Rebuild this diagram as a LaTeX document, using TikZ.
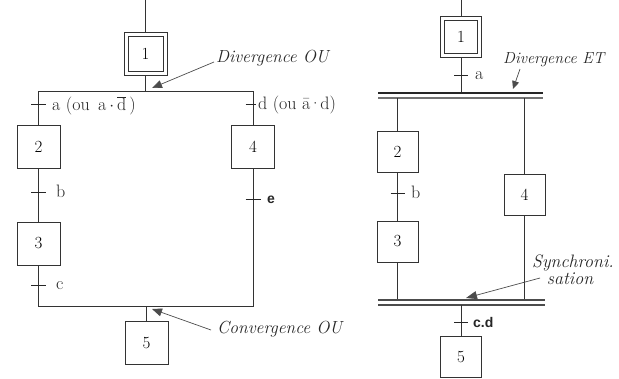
\documentclass[tikz,border=0pt]{standalone}
\usepackage{fontspec}
\newfontfamily\arialf{Liberation Sans}
\usetikzlibrary{arrows.meta}
\tikzset{
  stepbox/.style={draw=black!80, line width=0.8pt, minimum size=43pt, inner sep=0pt, font=\fontsize{17}{20}\selectfont},
  rstep/.style={stepbox, minimum size=41pt},
  initstep/.style={stepbox, path picture={\draw[black!80, line width=0.8pt]
      ([shift={(4pt,-4pt)}]path picture bounding box.north west) rectangle
      ([shift={(-4pt,4pt)}]path picture bounding box.south east);}},
  link/.style={draw=black!80, line width=0.8pt},
  tick/.style={draw=black!85, line width=0.9pt},
  bar/.style={draw=black!85, line width=1.2pt},
  lbl/.style={anchor=west, inner sep=0pt, font=\fontsize{18}{20}\selectfont, text=black!85},
  sflbl/.style={anchor=west, inner sep=0pt, font=\arialf\bfseries\fontsize{14}{16}\selectfont, text=black!85},
  note/.style={inner sep=0pt, font=\itshape\fontsize{17.5}{20}\selectfont, text=black!85},
  pointer/.style={draw=black!70, line width=0.7pt, -{Triangle[length=10pt,width=8pt]}}
}
\begin{document}
\begin{tikzpicture}[x=1pt,y=-1pt]
\useasboundingbox (0,0) rectangle (619,378);
% ---------------- left: OU ----------------
\node[initstep] (L1) at (145.5,53.5) {1};
\node[stepbox] (L2) at (38.5,146.5) {2};
\node[stepbox] (L3) at (38.5,243.5) {3};
\node[stepbox] (L4) at (253,146.5) {4};
\node[stepbox] (L5) at (146.5,343) {5};
\coordinate (Ltop) at (145.5,0);
\coordinate (Ldiv) at (145.5,91);
\coordinate (LdivL) at (38.5,91);
\coordinate (LdivR) at (253,91);
\coordinate (LconvL) at (38.5,306);
\coordinate (LconvR) at (253,306);
\coordinate (Lconv) at (146.5,306);
\draw[link] (Ltop) -- (L1.north);
\draw[link] (L1.south) -- (Ldiv);
\draw[link] (LdivL) -- (LdivR);
\draw[link] (LdivL) -- (L2.north);
\draw[link] (LdivR) -- (L4.north);
\draw[link] (L2.south) -- (L3.north);
\draw[link] (L3.south) -- (LconvL) -- (LconvR) -- (L4.south);
\draw[link] (Lconv) -- (L5.north);
% transitions
\coordinate (tA) at (38.5,104);
\coordinate (tD) at (253,104);
\coordinate (tB) at (38.5,192);
\coordinate (tC) at (38.5,285);
\coordinate (tE) at (253,199);
\foreach \t in {tA,tB,tC,tE} \draw[tick] ([xshift=-7.5pt]\t) -- ([xshift=7.5pt]\t);
\draw[tick] ([xshift=-7.5pt]tD) -- ([xshift=2.5pt]tD);
\node[lbl] (lA) at (52,106) {a (ou\, a\,$\cdot$\,$\overline{\mathrm{d}}$\,)};
\node[lbl] (lD) at (258,105) {d (ou ā\kern-1.5pt·\kern-1.5pt d)};
\node[lbl] (lB) at (56,191) {b};
\node[lbl] (lC) at (56,285.5) {c};
\node[sflbl] (lE) at (267,199.5) {e};
% annotations
\node[note, anchor=base west] (dOU) at (216,62) {Divergence OU};
\coordinate (dOUtip) at (152,88);
\draw[pointer] ([xshift=-2pt]dOU.base west) -- (dOUtip);
\node[note, anchor=base west] (cOU) at (217,333) {Convergence OU};
\coordinate (cOUtip) at (152,309);
\draw[pointer] ([xshift=-6pt,yshift=3pt]cOU.base west) -- (cOUtip);
% ---------------- right: ET ----------------
\node[initstep, minimum size=41pt] (R1) at (461,37) {1};
\node[rstep] (R2) at (397.5,151.5) {2};
\node[rstep] (R3) at (397.5,241.5) {3};
\node[rstep] (R4) at (524.5,194.5) {4};
\node[rstep] (R5) at (461,357) {5};
\coordinate (Rtop) at (461,0);
\coordinate (Rdiv) at (461,93);
\coordinate (RdivAL) at (378,93);
\coordinate (RdivAR) at (543,93);
\coordinate (RdivBL) at (378,98);
\coordinate (RdivBR) at (543,98);
\coordinate (RdivL) at (397.5,98);
\coordinate (RdivR) at (524.5,98);
\coordinate (RsynAL) at (378,300);
\coordinate (RsynAR) at (545,300);
\coordinate (RsynBL) at (378,305);
\coordinate (RsynBR) at (545,305);
\coordinate (RsynL) at (397.5,300);
\coordinate (RsynR) at (524.5,300);
\coordinate (Rsyn) at (461,305);
\draw[link] (Rtop) -- (R1.north);
\draw[link] (R1.south) -- (Rdiv);
\draw[bar] (RdivAL) -- (RdivAR);
\draw[bar, draw=black!55] (RdivBL) -- (RdivBR);
\draw[link, line width=1pt] (RdivL) -- (R2.north);
\draw[link] (R2.south) -- (R3.north);
\draw[link, line width=1pt] (R3.south) -- (RsynL);
\draw[link] (RdivR) -- (R4.north);
\draw[link] (R4.south) -- (RsynR);
\draw[bar, draw=black!70] (RsynAL) -- (RsynAR);
\draw[bar, draw=black!70] (RsynBL) -- (RsynBR);
\draw[link] (Rsyn) -- (R5.north);
\coordinate (ta) at (461,75);
\coordinate (tb) at (397.5,193);
\coordinate (tcd) at (461,322);
\foreach \t in {ta,tb,tcd} \draw[tick] ([xshift=-7pt]\t) -- ([xshift=7pt]\t);
\node[lbl] (la) at (475,76) {a};
\node[lbl] (lb) at (411,192) {b};
\node[sflbl] (lcd) at (473,322) {c.d};
\node[note, anchor=base west, font=\itshape\fontsize{16}{18}\selectfont] (dET) at (503,63) {Divergence ET};
\coordinate (dETfrom) at (520,69);
\coordinate (dETtip) at (513,89);
\draw[pointer, -{Triangle[length=8pt,width=7pt]}] (dETfrom) -- (dETtip);
\node[note, anchor=base, font=\itshape\fontsize{18}{20}\selectfont] (sync1) at (573,267) {Synchroni.};
\node[note, anchor=base, font=\itshape\fontsize{18}{20}\selectfont] (sync2) at (570,284) {sation};
\coordinate (syncfrom) at (540,278);
\coordinate (synctip) at (466,298);
\draw[pointer, -{Triangle[length=11pt,width=8pt]}] (syncfrom) -- (synctip);
\end{tikzpicture}
\end{document}
